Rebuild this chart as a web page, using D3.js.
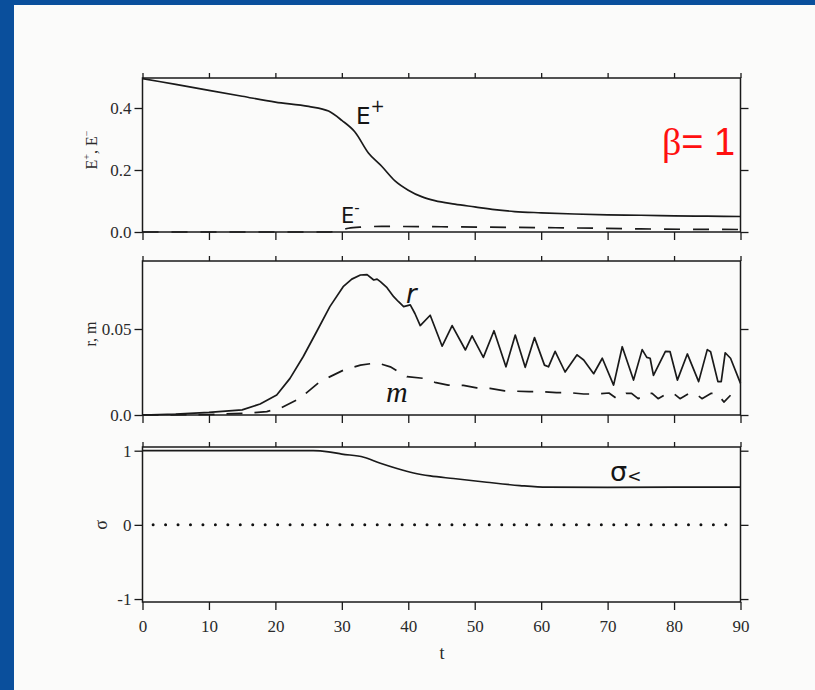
<!DOCTYPE html>
<html><head><meta charset="utf-8">
<script src="https://cdn.jsdelivr.net/npm/d3@7"></script>
<style>body{margin:0;padding:0;overflow:hidden}svg{display:block}</style>
</head><body>
<svg id="c" width="815" height="690"></svg>
<script>
// ---------- data ----------
const tTicks = [0,10,20,30,40,50,60,70,80,90];
const eTicks = [0,0.2,0.4], eTickLabels = ["0.0","0.2","0.4"];
const rTicks = [0,0.05], rTickLabels = ["0.0","0.05"];
const sTicks = [-1,0,1], sTickLabels = ["-1","0","1"];

const Eplus = [[0,0.495],[5,0.476],[10,0.457],[15,0.438],[20,0.419],[25,0.405],[28,0.39],[30,0.36],[32,0.322],[34,0.255],[36,0.212],[38,0.165],[40,0.135],[42,0.114],[44,0.101],[47,0.09],[50,0.081],[53,0.072],[56,0.066],[60,0.062],[65,0.058],[70,0.055],[75,0.054],[80,0.052],[85,0.051],[90,0.050]];
const Eminus = [[0,0],[28,0],[29.5,0.004],[31,0.012],[33,0.016],[36,0.018],[45,0.017],[55,0.015],[65,0.013],[75,0.010],[90,0.008]];
const rSeries = [[0,0],[5,0.0005],[10,0.0015],[15,0.003],[17.7,0.0064],[20.2,0.0116],[22.2,0.0213],[24.2,0.034],[26.2,0.0484],[28.2,0.063],[30.2,0.0746],[31.5,0.079],[32.8,0.0814],[33.8,0.0816],[34.8,0.0785],[35.3,0.079],[35.8,0.0775],[36.8,0.074],[37.8,0.0688],[38.5,0.066],[39.3,0.063],[40.3,0.064],[41.0,0.059],[41.8,0.052],[43.3,0.058],[45.1,0.040],[46.6,0.052],[48.6,0.0378],[49.6,0.046],[51.3,0.0335],[52.9,0.049],[54.7,0.028],[56.1,0.0465],[57.6,0.0277],[59,0.045],[60.5,0.029],[61.1,0.028],[62.1,0.037],[63.6,0.025],[65.4,0.035],[66.4,0.032],[67.9,0.024],[69.2,0.033],[70.9,0.0174],[72.2,0.0397],[73.9,0.0203],[75.2,0.038],[75.9,0.0335],[76.4,0.033],[76.9,0.023],[78.7,0.037],[79.4,0.0368],[80.5,0.0203],[82,0.0355],[83.7,0.0194],[85,0.038],[85.5,0.0368],[86.6,0.0194],[87.1,0.0194],[87.7,0.0362],[88.5,0.033],[90,0.0184]];
const mSeries = [[0,0],[10,0.0003],[15.7,0.001],[18.7,0.002],[20.7,0.0039],[23.7,0.0097],[26.7,0.0194],[30.2,0.026],[32.8,0.029],[35.3,0.0304],[37.3,0.028],[39.8,0.0223],[42.3,0.0213],[44,0.019],[46,0.0174],[48.3,0.0172],[50.3,0.0158],[52.3,0.0155],[54.5,0.014],[56.4,0.0138],[58.2,0.0136],[60.2,0.0135],[62.3,0.013],[64.3,0.013],[66.4,0.0122],[68.4,0.0122],[70.2,0.0128],[71.4,0.0095],[72.8,0.0126],[73.6,0.0126],[74.6,0.0095],[76.0,0.0126],[76.7,0.0126],[77.6,0.0095],[79.0,0.0126],[79.9,0.0126],[80.9,0.0095],[82.3,0.0126],[83.2,0.0126],[84.2,0.0095],[85.6,0.0126],[86.5,0.0126],[87.5,0.0075],[88.5,0.0115]];
const sigma = [[0,1.0],[10,1.0],[20,1.0],[25.7,1.0],[28,0.985],[30,0.955],[33.3,0.912],[35.8,0.83],[38.3,0.76],[40.8,0.70],[43.3,0.66],[46.8,0.625],[51.8,0.575],[56.8,0.53],[60.9,0.508],[70,0.505],[80,0.508],[90,0.508]];
const zeroLine = [[1.6,0],[89.4,0]];

// ---------- drawing ----------
const svg = d3.select("#c");
svg.append("rect").attr("width",815).attr("height",690).attr("fill","#0a4f9c");
svg.append("rect").attr("x",14).attr("y",5).attr("width",801).attr("height",685).attr("fill","#fbfbfa");

const x = d3.scaleLinear().domain([0,90]).range([142.5,740.5]);
const ink = "#1a1a1a";
const serif = "'Liberation Serif','Times New Roman',serif";

const panels = [
  {y: d3.scaleLinear().domain([0,0.5]).range([232,77]), top:78, bottom:232, ticks:eTicks, labels:eTickLabels, rticks:eTicks},
  {y: d3.scaleLinear().domain([0,0.09]).range([415,260.2]), top:261, bottom:415, ticks:rTicks, labels:rTickLabels, rticks:rTicks},
  {y: d3.scaleLinear().domain([-1.04,1.05]).range([602,447]), top:447, bottom:602, ticks:sTicks, labels:sTickLabels, rticks:sTicks}
];

panels.forEach((p,i)=>{
  const g = svg.append("g");
  g.append("rect").attr("x",x(0)).attr("y",p.top).attr("width",x(90)-x(0)).attr("height",p.bottom-p.top)
    .attr("fill","none").attr("stroke",ink).attr("stroke-width",1.5);
  const left = g.append("g").attr("transform",`translate(${x(0)},0)`)
    .call(d3.axisLeft(p.y).tickValues(p.ticks).tickFormat((d,j)=>p.labels[j]).tickSize(8).tickPadding(3));
  const right = g.append("g").attr("transform",`translate(${x(90)},0)`)
    .call(d3.axisRight(p.y).tickValues(p.rticks).tickFormat("").tickSize(8));
  const top = g.append("g").attr("transform",`translate(0,${p.top})`)
    .call(d3.axisTop(x).tickValues(tTicks).tickFormat("").tickSize(5));
  const bot = g.append("g").attr("transform",`translate(0,${p.bottom})`)
    .call(d3.axisBottom(x).tickValues(tTicks).tickFormat(i===2?d3.format("d"):"").tickSize(8).tickPadding(10));
  [left,right,top,bot].forEach(a=>{
    a.select(".domain").remove();
    a.selectAll("line").attr("stroke",ink).attr("stroke-width",1.3);
    a.selectAll("text").attr("font-family",serif).attr("font-size",17).attr("fill","#2a2a2a");
  });
});

const [pE,pR,pS] = panels;
const lineGen = (ys,curve)=>d3.line().x(d=>x(d[0])).y(d=>ys(d[1])).curve(curve||d3.curveMonotoneX);
const draw = (data,ys,dash,curve,w)=>svg.append("path").datum(data).attr("d",lineGen(ys,curve))
  .attr("fill","none").attr("stroke",ink).attr("stroke-width",w||1.7)
  .attr("stroke-dasharray",dash||null).attr("stroke-linejoin","round");

draw(Eplus,pE.y);
draw(Eminus,pE.y,"16,13");
draw(rSeries,pR.y,null,d3.curveLinear);
draw(mSeries,pR.y,"16,12",d3.curveLinear);
draw(sigma,pS.y);
svg.append("path").datum(zeroLine).attr("d",lineGen(pS.y,d3.curveLinear))
  .attr("fill","none").attr("stroke","#111").attr("stroke-width",3)
  .attr("stroke-linecap","round").attr("stroke-dasharray","0,12.45");

// axis labels
const ylab = (cx,cy,build)=>{const t=svg.append("text").attr("transform",`translate(${cx},${cy}) rotate(-90)`)
  .attr("text-anchor","middle").attr("font-family",serif).attr("font-size",16).attr("fill","#2a2a2a"); build(t);};
ylab(97,150,t=>{t.append("tspan").text("E");t.append("tspan").attr("font-size",10).attr("dy",-7).text("+");
  t.append("tspan").attr("dy",7).text(", E");t.append("tspan").attr("font-size",10).attr("dy",-7).text("−");});
ylab(96,334,t=>t.text("r, m"));
ylab(107,525,t=>t.attr("font-size",18).text("σ"));
svg.append("text").attr("x",442).attr("y",659).attr("text-anchor","middle").attr("font-family",serif)
  .attr("font-size",18).attr("fill","#2a2a2a").text("t");

// handwritten annotations
const hand = "'DejaVu Sans','Liberation Sans',sans-serif";
const ann = (xx,yy,size,build)=>{const t=svg.append("text").attr("x",xx).attr("y",yy).attr("font-family",hand)
  .attr("font-size",size).attr("fill","#151515"); build(t);};
ann(356,124,23,t=>{t.append("tspan").text("E");t.append("tspan").attr("font-size",17).attr("dy",-12).text("+");});
ann(341,223,21,t=>{t.append("tspan").text("E");t.append("tspan").attr("font-size",15).attr("dy",-10).text("-");});
ann(406,303,26,t=>t.attr("font-style","italic").text("r"));
ann(386,402,30,t=>t.attr("font-family",serif).attr("font-style","italic").text("m"));
ann(610,481,27,t=>{t.append("tspan").text("σ");t.append("tspan").attr("font-size",17).attr("dy",1).text("<");});

// beta label
const b = svg.append("text").attr("x",662).attr("y",155).attr("fill","#ff1010").attr("font-size",38)
  .attr("font-family","'Liberation Sans',Arial,sans-serif");
b.append("tspan").attr("font-family",serif).text("β");
b.append("tspan").text("= 1");
</script>
</body></html>
